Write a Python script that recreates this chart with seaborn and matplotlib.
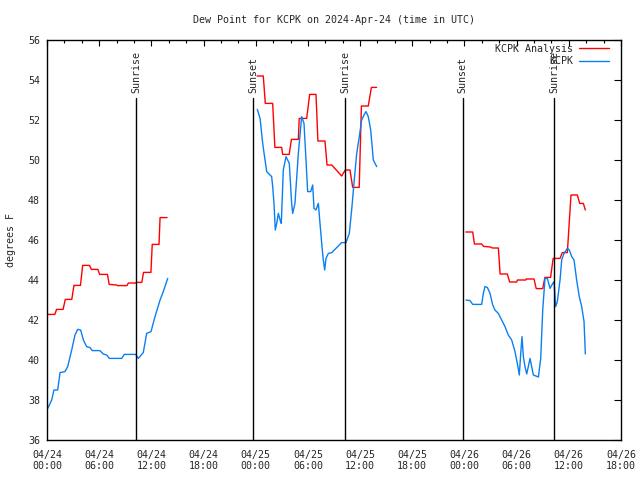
import numpy as np
import pandas as pd
import matplotlib
matplotlib.use('Agg')
import matplotlib.pyplot as plt
import matplotlib.dates as mdates
from matplotlib.lines import Line2D
import seaborn as sns

# hours since 2024-04-24 00:00 UTC, NaN breaks the line between segments
red_hours = [0.0, 0.9, 1.1, 1.85, 2.1, 2.85, 3.1, 3.85, 4.1, 4.9, 5.1, 5.85, 6.05, 6.95,
             7.15, 8.0, 8.1, 9.2, 9.35, 10.2, 10.3, 10.9, 11.1, 11.95, 12.1, 12.88, 13.0, 13.8,
             np.nan,
             24.15, 24.87, 25.1, 25.95, 26.2, 26.98, 27.1, 27.85, 28.1, 28.9, 29.0, 29.86,
             30.2, 30.93, 31.15, 31.96, 32.2, 32.74, 33.88, 34.3, 34.84, 35.15, 35.9,
             36.15, 36.94, 37.3, 37.9,
             np.nan,
             48.15, 48.95, 49.15, 49.98, 50.2, 51.0, 51.2, 51.9, 52.1, 52.93, 53.2, 54.0,
             54.1, 55.05, 55.1, 56.0, 56.25, 57.0, 57.25, 57.9, 58.2, 58.99, 59.25, 59.83,
             60.25, 60.98, 61.25, 61.67, 61.9]
red_dewpt = [42.28, 42.28, 42.53, 42.53, 43.03, 43.03, 43.73, 43.73, 44.73, 44.73, 44.53, 44.53,
             44.28, 44.28, 43.78, 43.75, 43.72, 43.72, 43.85, 43.85, 43.88, 43.88, 44.38, 44.38,
             45.78, 45.78, 47.12, 47.12,
             np.nan,
             54.2, 54.2, 52.83, 52.83, 50.63, 50.63, 50.28, 50.28, 51.03, 51.03, 52.08, 52.08,
             53.28, 53.28, 50.95, 50.95, 49.75, 49.75, 49.2, 49.5, 49.5, 48.63, 48.63,
             52.7, 52.7, 53.63, 53.63,
             np.nan,
             46.4, 46.4, 45.8, 45.8, 45.68, 45.65, 45.6, 45.6, 44.3, 44.3, 43.9, 43.9,
             44.0, 44.0, 44.05, 44.05, 43.57, 43.57, 44.13, 44.13, 45.08, 45.08, 45.37, 45.37,
             48.25, 48.25, 47.83, 47.83, 47.5]

blue_hours = [0.08, 0.54, 0.8, 1.23, 1.5, 2.07, 2.38, 2.84, 3.22, 3.53, 3.87, 4.18, 4.56, 4.94,
              5.21, 6.09, 6.47, 6.86, 7.17, 8.59, 8.89, 10.2, 10.5, 11.07, 11.46, 11.96, 12.42,
              13.0, 13.37, 13.88,
              np.nan,
              24.18, 24.5, 24.8, 25.07, 25.26, 25.83, 25.95, 26.1, 26.25, 26.41, 26.6, 26.8,
              26.94, 27.17, 27.48, 27.86, 28.13, 28.25, 28.51, 28.9, 29.28, 29.55, 29.78, 29.97,
              30.32, 30.55, 30.7, 30.93, 31.2, 31.39, 31.62, 31.77, 31.93, 32.08, 32.35, 32.74,
              33.88, 34.38, 34.76, 35.03, 35.33, 35.61, 35.91, 36.18, 36.45, 36.68, 36.94, 37.22,
              37.52, 37.91,
              np.nan,
              48.18, 48.64, 48.95, 49.98, 50.17, 50.36, 50.63, 50.94, 51.25, 51.51, 51.89, 52.28,
              52.66, 53.04, 53.43, 53.81, 54.08, 54.31, 54.47, 54.62, 54.77, 54.96, 55.16, 55.54,
              55.73, 55.92, 56.5, 56.77, 57.0, 57.26, 57.53, 57.84, 58.15, 58.3, 58.49, 58.68,
              58.99, 59.18, 59.45, 59.83, 60.06, 60.33, 60.6, 60.9, 61.2, 61.48, 61.75, 61.9]
blue_dewpt = [37.58, 38.0, 38.5, 38.5, 39.37, 39.42, 39.67, 40.5, 41.25, 41.53, 41.5, 41.0, 40.67,
              40.62, 40.47, 40.47, 40.3, 40.25, 40.08, 40.08, 40.28, 40.28, 40.08, 40.37, 41.33,
              41.42, 42.17, 43.0, 43.42, 44.08,
              np.nan,
              52.53, 52.08, 50.83, 50.0, 49.42, 49.17, 48.67, 47.83, 46.5, 46.83, 47.33, 47.0,
              46.83, 49.5, 50.17, 49.83, 47.83, 47.33, 47.83, 50.33, 52.17, 51.83, 50.0, 48.42,
              48.42, 48.75, 47.58, 47.5, 47.83, 46.83, 45.67, 45.0, 44.5, 45.08, 45.33, 45.37,
              45.87, 45.87, 46.33, 47.5, 49.0, 50.33, 51.17, 52.0, 52.25, 52.42, 52.17, 51.5,
              50.0, 49.67,
              np.nan,
              43.0, 42.97, 42.78, 42.78, 43.33, 43.67, 43.63, 43.33, 42.75, 42.5, 42.33, 42.0,
              41.67, 41.25, 41.0, 40.42, 39.83, 39.25, 40.33, 41.17, 40.17, 39.67, 39.3, 40.08,
              39.67, 39.25, 39.15, 40.08, 42.5, 44.08, 44.08, 43.58, 43.83, 43.92, 42.67, 42.92,
              44.0, 45.0, 45.33, 45.58, 45.5, 45.17, 45.0, 44.0, 43.17, 42.67, 41.92, 40.3]

sun_hours = [10.27, 23.72, 34.3, 47.8, 58.33]
sun_labels = ['Sunrise', 'Sunset', 'Sunrise', 'Sunset', 'Sunrise']

series_names = ['KCPK Analysis', 'KCPK']
series_colors = ['#ff0000', '#0a80f0']

base = pd.Timestamp('2024-04-24 00:00')


def make_frame(hours, values, name):
    df = pd.DataFrame({'hours': hours, 'dewpt': values})
    df['seg'] = df['hours'].isna().cumsum()
    df = df.dropna()
    df['time'] = base + pd.to_timedelta(df['hours'], unit='h')
    df['series'] = name
    df['unit'] = name + df['seg'].astype(str)
    return df


data = pd.concat([make_frame(red_hours, red_dewpt, series_names[0]),
                  make_frame(blue_hours, blue_dewpt, series_names[1])])

sns.set_style('white')
plt.rcParams['font.family'] = ['DejaVu Sans Mono']
FS = 7.2

fig = plt.figure(figsize=(6.4, 4.8), dpi=100)
ax = fig.add_axes([47 / 640, 40 / 480, 574 / 640, 400 / 480])

sns.lineplot(data=data, x='time', y='dewpt', hue='series', units='unit', estimator=None,
             sort=False, palette=dict(zip(series_names, series_colors)), linewidth=1.0,
             legend=False, ax=ax)

# sunrise / sunset markers
for h, lab in zip(sun_hours, sun_labels):
    t = base + pd.Timedelta(hours=h)
    ax.plot([t, t], [36, 53.1], color='black', linewidth=1.0)
    ax.text(t, 53.35, lab, rotation=90, ha='center', va='bottom', fontsize=FS)

ax.set_xlim(base, base + pd.Timedelta(hours=66))
ax.set_ylim(36, 56)
ax.set_yticks(np.arange(36, 57, 2))
ax.xaxis.set_major_locator(mdates.HourLocator(byhour=[0, 6, 12, 18]))
ax.xaxis.set_minor_locator(mdates.HourLocator(byhour=range(0, 24, 2)))
ax.xaxis.set_major_formatter(mdates.DateFormatter('%m/%d\n%H:%M'))
ax.tick_params(axis='both', which='both', direction='in', top=True, right=True,
               labelsize=FS, color='black', width=0.8)
ax.tick_params(axis='x', which='major', length=4, pad=7)
ax.tick_params(axis='x', which='minor', length=2.5)
ax.tick_params(axis='y', which='major', length=5, pad=5)
for sp in ax.spines.values():
    sp.set_color('black')
    sp.set_linewidth(1.0)

ax.set_xlabel('')
ax.set_ylabel('degrees F', fontsize=FS, labelpad=9)
ax.set_title('Dew Point for KCPK on 2024-Apr-24 (time in UTC)', fontsize=FS, pad=12)

handles = [Line2D([0], [0], color=c, linewidth=1.0) for c in series_colors]
ax.legend(handles, series_names, loc='upper right', bbox_to_anchor=(0.9826, 0.996),
          markerfirst=False, frameon=False, fontsize=FS, handlelength=3.0,
          handletextpad=0.6, labelspacing=0.25, borderaxespad=0.0, borderpad=0.2)

fig.savefig('out.png', dpi=100)
